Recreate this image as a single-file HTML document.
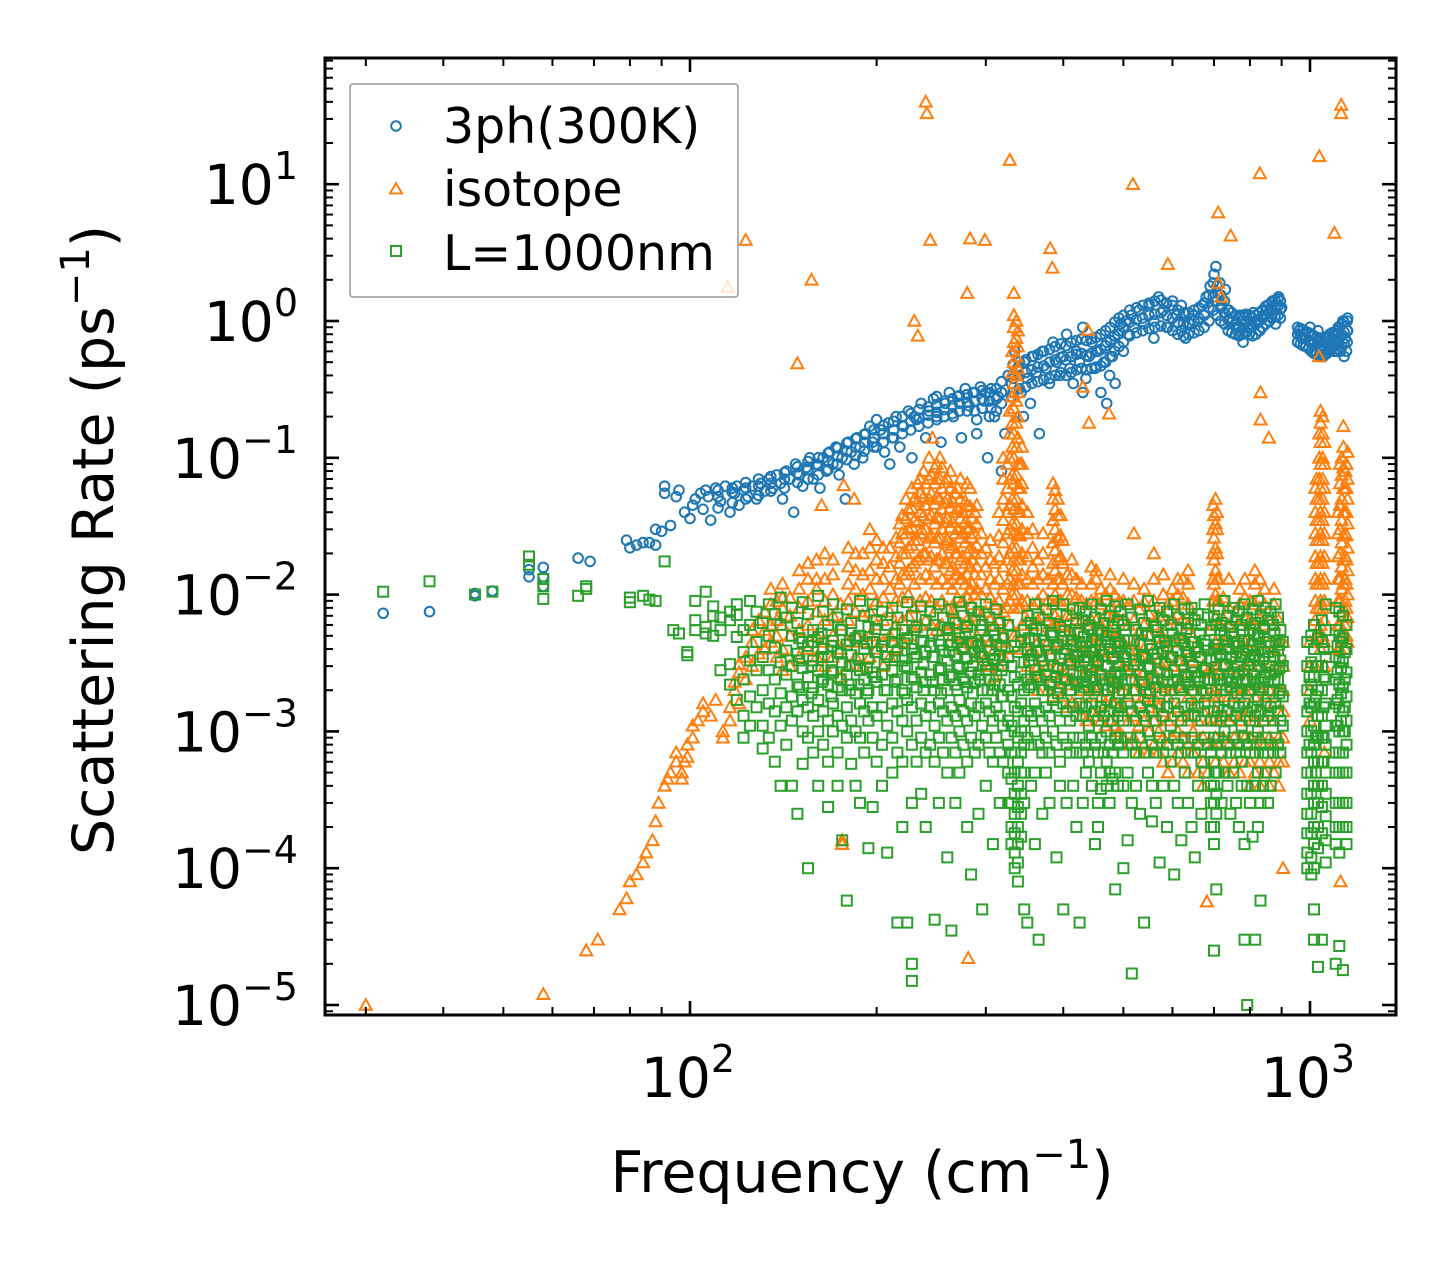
<!DOCTYPE html>
<html><head><meta charset="utf-8"><style>
html,body{margin:0;padding:0;background:#fff;}
svg{display:block;font-family:"DejaVu Sans","Liberation Sans",sans-serif;}
</style></head><body>
<svg id="chart" width="1455" height="1265" viewBox="0 0 1455 1265" xmlns="http://www.w3.org/2000/svg">
<rect x="0" y="0" width="1455" height="1265" fill="#fff"/>
<g id="marks"></g>
<g id="axes"></g>
<g id="legend">
  <rect x="350" y="84" width="388" height="213" rx="3" fill="#fff" fill-opacity="0.8" stroke="#999" stroke-width="1.5"/>
  <circle cx="396" cy="126" r="4.8" fill="none" stroke="#1f77b4" stroke-width="2"/>
  <text x="443" y="143" font-size="49">3ph(300K)</text>
  <path d="M396,183 L402,193.5 L390,193.5 Z" fill="none" stroke="#ff7f0e" stroke-width="2"/>
  <text x="443" y="206" font-size="49">isotope</text>
  <rect x="391" y="246" width="10" height="10" fill="none" stroke="#2ca02c" stroke-width="2"/>
  <text x="443" y="270" font-size="49">L=1000nm</text>
</g>
</svg>
<script>
// ---- data: [frequency (cm^-1), [scattering rates (ps^-1)]] ----
const threePhGroups = [
[32,[.0073]],[38,[.0075]],[45,[.0102,.0098]],[48,[.0106]],[55,[.0152,.0135]],[58,[.0158,.0135,.0115]],[66,[.0185]],[69,[.0175]],
[79,[.025]],[80,[.022]],[82,[.023]],[84,[.024]],[86,[.024]],[88,[.023,.03]],[90,[.029]],[91,[.055,.062]],[93,[.032]],[95,[.052]],[96,[.058]],
[98,[.04]],[100,[.036]],[101,[.045]],[102,[.05]],[104,[.055]],[105,[.042]],[106,[.058]],[107,[.052]],[108,[.035]],[110,[.06]],[112,[.048]],
[114,[.062]],[116,[.04]],[118,[.055]],[119,[.062]],[120,[.045]],[122,[.058]],[124,[.052]],[126,[.062]],[128,[.05]],[130,[.065]],[132,[.057]],
[134,[.07]],[136,[.06]],[138,[.075]],[140,[.065]],[141,[.05]],[143,[.08]],[145,[.07]],[147,[.04]],[148,[.09]],[150,[.075]],[152,[.062]],
[154,[.085]],[156,[.1]],[158,[.07]],[160,[.09]],[162,[.06]],[164,[.1]],[166,[.08]],[168,[.11]],[170,[.09]],[172,[.12]],[174,[.075]],
[176,[.1]],[178,[.05]],[180,[.13]],[182,[.11]],[184,[.09]],[186,[.14]],[188,[.12]],[190,[.1]],[192,[.15]],[195,[.17]],[197,[.13]],
[200,[.19,.12]],[203,[.16]],[206,[.11]],[209,[.18]],[210,[.09]],[212,[.14]],[215,[.2]],[218,[.12]],[221,[.17]],[225,[.22]],[228,[.1]],
[230,[.2]],[232,[.19]],[236,[.25]],[240,[.14]],[243,[.22]],[247,[.27]],[250,[.2,.28]],[254,[.13]],[258,[.25]],[262,[.3]],[266,[.2]],
[270,[.28]],[274,[.14]],[278,[.32]],[282,[.24]],[286,[.3]],[290,[.19,.15]],[294,[.33]],[298,[.26]],[300,[.3]],[302,[.1]],[306,[.32,.23]],
[310,[.2]],[314,[.28]],[318,[.08]],[322,[.15]],[326,[.4]],[330,[.35,.28]],[334,[.6]],[338,[.45]],[342,[.3]],[345,[.2]],[346,[.5]],
[350,[.38]],[354,[.25]],[358,[.55]],[362,[.42]],[366,[.15]],[370,[.6]],[375,[.45]],[380,[.35]],[385,[.7]],[390,[.5]],[395,[.4]],
[400,[.55]],[405,[.8]],[410,[.45]],[415,[.35]],[420,[.6]],[425,[.5]],[430,[.9,.3]],[435,[.38]],[440,[.55]],[445,[.7]],[450,[.45]],
[455,[.6]],[460,[.3]],[465,[.5]],[470,[.7,.25]],[475,[.4]],[480,[.55]],[485,[.35]],[490,[.8]],[495,[.95]],[500,[.6]],[505,[1.0]],
[510,[.8]],[515,[1.1]],[520,[.9]],[530,[1.2]],[540,[.95]],[550,[1.3]],[560,[1.0,.75]],[570,[1.5]],[580,[1.2]],[590,[.9]],[600,[1.4]],
[610,[1.1]],[620,[.85,1.3]],[630,[.75]],[640,[.95]],[650,[1.1]],[660,[1.0]],[670,[1.3]],[680,[1.5]],[690,[1.8]],[700,[2.2]],[705,[2.5]],
[710,[1.6]],[715,[1.9]],[720,[1.3]],[730,[1.7]],[740,[1.2]],[750,[1.0]],[760,[.9]],[770,[1.1,.8]],[780,[.7]],[790,[1.0]],[800,[.9]],
[810,[1.15]],[820,[1.0]],[830,[.85]],[840,[1.1]],[850,[1.2]],[860,[1.0]],[870,[1.4]],[880,[1.3,.95]],[890,[1.5]],[900,[1.25]],
[960,[.85]],[970,[.75]],[980,[.8]],[1000,[.9,.7]],[1010,[.7]],[1020,[.6]],[1030,[.85]],[1040,[.65]],[1050,[.55]],[1060,[.75]],
[1070,[.6]],[1080,[.7]],[1090,[.65]],[1100,[.8]],[1110,[.9]],[1120,[.6]],[1130,[1.0]],[1135,[.55]],[1140,[.75]],[1145,[.6]],[1150,[.85,1.05]]
];
const threePhExtra = [
[111,[.043,.052,.058]],[117,[.047,.056,.06]],[123,[.05,.06,.066]],[129,[.053,.062,.07]],[135,[.057,.065,.073]],[142,[.06,.07,.078]],
[149,[.066,.077,.086]],[155,[.07,.082,.094]],[161,[.075,.088,.1]],[167,[.082,.095,.108]],[173,[.09,.103,.118]],[179,[.097,.112,.128]],
[185,[.104,.12,.138]],[191,[.112,.13,.148]],[198,[.12,.14,.16]],[205,[.13,.15,.172]],[213,[.14,.16,.185]],[220,[.15,.172,.2]],
[227,[.16,.185,.21]],[234,[.17,.195,.225]],[242,[.18,.205,.235]],[250,[.19,.215,.245]],[257,[.2,.225,.26]],[265,[.21,.24,.27]],
[272,[.22,.25,.285]],[280,[.22,.255,.29]],[288,[.22,.26,.3]],[296,[.23,.27,.31]],[304,[.2,.26,.3]],[312,[.22,.27,.32]],[318,[.25,.3,.36]],
[332,[.3,.38,.48]],[340,[.32,.4,.5]],[348,[.33,.42,.52]],[356,[.35,.44,.55]],[364,[.36,.46,.57]],[372,[.37,.47,.6]],[380,[.38,.5,.62]],
[388,[.4,.52,.65]],[396,[.42,.54,.68]],[404,[.4,.52,.66]],[412,[.42,.55,.7]],[420,[.44,.57,.72]],[428,[.45,.58,.74]],[436,[.44,.56,.72]],
[444,[.45,.58,.74]],[452,[.46,.6,.76]],[460,[.47,.62,.8]],[468,[.5,.66,.85]],[476,[.55,.72,.9]],[484,[.6,.78,.98]],[492,[.65,.85,1.05]],
[500,[.7,.9,1.1]],[512,[.78,.98,1.2]],[525,[.82,1.02,1.25]],[537,[.85,1.05,1.3]],[550,[.88,1.1,1.35]],[562,[.9,1.12,1.4]],[575,[.92,1.15,1.42]],
[587,[.9,1.1,1.35]],[600,[.85,1.05,1.3]],[612,[.8,.98,1.2]],[625,[.78,.95,1.15]],[637,[.8,.97,1.15]],[650,[.82,1.0,1.2]],[662,[.85,1.05,1.25]],
[675,[.9,1.1,1.35]],[687,[1.0,1.25,1.55]],[698,[1.2,1.5,1.9]],[708,[1.1,1.4,1.8]],[718,[1.0,1.25,1.55]],[728,[.95,1.15,1.4]],[738,[.85,1.02,1.2]],
[748,[.82,.98,1.15]],[758,[.8,.95,1.1]],[768,[.78,.92,1.08]],[778,[.8,.95,1.1]],[788,[.82,.97,1.12]],[798,[.8,.95,1.1]],[808,[.78,.92,1.05]],
[818,[.8,.95,1.1]],[828,[.85,1.0,1.15]],[838,[.9,1.05,1.2]],[848,[.95,1.1,1.28]],[858,[1.0,1.15,1.32]],[868,[1.05,1.2,1.38]],[878,[1.08,1.25,1.42]],
[888,[1.1,1.28,1.45]],[896,[1.05,1.22,1.4]],[955,[.7,.8,.9]],[965,[.68,.78,.88]],[975,[.66,.76,.86]],[985,[.65,.74,.84]],[995,[.63,.72,.82]],
[1005,[.6,.7,.8]],[1015,[.58,.68,.78]],[1025,[.57,.66,.76]],[1035,[.56,.65,.75]],[1045,[.55,.64,.74]],[1055,[.56,.65,.75]],[1065,[.58,.67,.77]],
[1075,[.6,.7,.8]],[1085,[.62,.72,.82]],[1095,[.6,.7,.82]],[1105,[.6,.72,.85]],[1115,[.62,.75,.9]],[1125,[.65,.8,.95]],[1135,[.68,.83,.98]],[1148,[.7,.85,1.0]]
];
const isotopeGroups = [
[30,[.00001]],[58,[.000012]],[68,[.000025]],[71,[.00003]],[77,[.00005]],[79,[.00006]],[80,[.00008]],[82,[.00009]],[84,[.00011]],
[85,[.00013]],[87,[.00016]],[88,[.00022]],[89,[.0003]],[91,[.0004]],[92,[.00045]],[93,[.0005]],[95,[.0006,.0007]],[97,[.00045,.0005]],
[98,[.0006]],[99,[.0008,.00065]],[101,[.0009,.0011]],[103,[.0012]],[105,[.0014,.0016]],[108,[.0013]],[110,[.0017]],[113,[.0009,.001]],
[116,[.0012,.0015]],[118,[.002,.0023]],[120,[.0016,.0027,.0031]],[123,[.0024,.0035]],[126,[.003,.0045,.0055]],[129,[.0037,.0065]],
[132,[.004,.0055,.0075]],[135,[.0045,.006,.0085,.011]],[138,[.0035,.005,.0065,.009]],[141,[.0028,.004,.006,.008,.0095,.012]],
[145,[.003,.005,.007,.0095]],[150,[.0035,.0055,.008,.011,.015]],[155,[.004,.006,.009,.013,.017]],[160,[.0035,.005,.0075,.011]],
[165,[.003,.0045,.0065,.009,.013,.02]],[170,[.0035,.005,.007,.01,.014]],[175,[.0025,.004,.006,.0085]],[176,[.00015,.00016]],
[180,[.003,.0045,.0065,.009,.012,.016,.022]],[185,[.0035,.005,.0075,.011,.015]],[190,[.003,.0045,.007,.01,.014,.02]],
[195,[.0035,.005,.0075,.011,.015,.022,.03]],[200,[.004,.006,.009,.013,.018]],[205,[.003,.0045,.0065,.0095,.013,.017]],
[210,[.0035,.005,.0075,.011,.016,.022]],[215,[.004,.006,.009,.013,.019,.026]],[220,[.0045,.0065,.0095,.014,.02,.028,.038]],
[225,[.005,.007,.01,.015,.022,.03,.042]],[230,[.0055,.008,.012,.017,.025,.035,.05]],[235,[.006,.009,.013,.019,.028,.04,.055,.07]],
[240,[.0065,.0095,.014,.02,.03,.045,.065]],[245,[.006,.009,.013,.019,.027,.038,.055,.075]],[250,[.0055,.008,.012,.018,.026,.037,.052,.07,.09]],
[255,[.006,.009,.013,.02,.03,.042,.06,.085]],[260,[.0055,.008,.012,.017,.025,.036,.05,.07]],[265,[.005,.0075,.011,.016,.023,.034,.048]],
[270,[.0045,.0065,.0095,.014,.02,.03,.042,.06]],[275,[.004,.006,.009,.013,.019,.028,.04]],[280,[.0045,.0065,.0095,.014,.02,.03,.045,.065]],
[285,[.004,.006,.0085,.012,.018,.026,.036]],[290,[.0035,.005,.0075,.011,.016,.023,.033,.045]],[295,[.003,.0045,.007,.01,.014,.02,.028]],
[300,[.0035,.005,.0075,.011,.016,.022]],[305,[.003,.0045,.0065,.0095,.013,.018,.025]],[310,[.0025,.004,.006,.0085,.012,.017]],
[315,[.003,.0045,.0065,.009,.013,.019,.027,.04]],[320,[.0035,.005,.0075,.011,.016,.024,.035,.05,.07,.1]],
[328,[.004,.006,.009,.013,.02,.03,.045,.07,.1,.15,.22]],
[333,[.005,.008,.012,.018,.028,.042,.065,.1,.15,.23,.35,.5,.7,.9,1.1,1.6]],
[338,[.005,.008,.012,.018,.027,.04,.06,.09,.14,.2,.3,.45,.65,.85]],[343,[.004,.006,.009,.014,.02,.03,.045,.065,.09,.12]],
[350,[.003,.0045,.0065,.009,.013,.019,.028,.04]],[357,[.0025,.004,.006,.0085,.012,.016,.022,.03]],[364,[.002,.003,.0045,.0065,.009,.013,.018]],
[371,[.0025,.0035,.005,.007,.01,.014,.02,.028]],[378,[.002,.003,.0045,.0065,.009,.013]],[385,[.0018,.0026,.004,.006,.0085,.012,.017,.024,.035,.05,.065]],
[392,[.002,.003,.0045,.0065,.009,.013,.018,.026,.038,.05]],[399,[.0018,.0027,.004,.006,.0085,.012,.017,.025]],[406,[.0015,.0022,.0033,.005,.007,.01,.014]],
[413,[.0016,.0024,.0035,.005,.0072,.01,.014,.018]],[420,[.0015,.0022,.0032,.0046,.0066,.0095,.013]],[428,[.0013,.002,.003,.0044,.0064,.009,.012]],
[436,[.0012,.0018,.0027,.004,.006,.0085]],[444,[.0014,.0021,.0031,.0045,.0065,.009,.012,.016]],[452,[.0013,.002,.003,.0045,.0065,.009,.013,.015]],
[460,[.0012,.0018,.0027,.004,.006,.0085,.011]],[468,[.0011,.0016,.0024,.0035,.005,.0072,.01]],[476,[.0012,.0018,.0026,.0038,.0055,.008,.011,.014]],
[484,[.0011,.0016,.0024,.0035,.005,.0072,.01]],[492,[.001,.0015,.0022,.0032,.0046,.0065,.009]],[500,[.0009,.0014,.002,.003,.0045,.0065,.009,.013]],
[510,[.0008,.0012,.0018,.0027,.004,.006,.0085]],[520,[.0009,.0013,.002,.003,.0044,.0065,.009,.012,.028]],[530,[.0007,.0011,.0016,.0024,.0036,.0053,.0078]],
[540,[.0008,.0012,.0018,.0027,.004,.006,.0088,.011]],[550,[.0007,.001,.0015,.0023,.0034,.005,.0072]],[560,[.0008,.0012,.0018,.0027,.004,.006,.009,.013,.02]],
[570,[.0007,.001,.0015,.0022,.0033,.0049,.007]],[580,[.0006,.0009,.0014,.0021,.0032,.0048,.007,.01,.014]],[590,[.0005,.0008,.0012,.0018,.0027,.004,.006,.0085]],
[600,[.0006,.0009,.0013,.002,.003,.0045,.0066,.009,.011]],[612,[.0007,.001,.0015,.0022,.0033,.005,.0072,.01,.013]],
[624,[.0006,.0009,.0013,.002,.003,.0045,.0066,.0095,.013]],[636,[.0005,.0008,.0012,.0018,.0027,.004,.006,.0085,.012,.015]],
[648,[.0007,.001,.0015,.0022,.0033,.0049,.007]],[660,[.0005,.0008,.0012,.0018,.0027,.004]],[672,[.0004,.0006,.0009,.0014,.002,.003]],
[684,[.0005,.0008,.0012,.0018,.0027]],[698,[.0008,.0012,.0018,.0027,.004,.006,.009,.013,.02,.03,.045]],
[704,[.0006,.0009,.0014,.002,.003,.0045,.0068,.01,.015,.022,.033,.05]],[712,[.0008,.0012,.0018,.0027,.004,.006,.009,.013]],
[725,[.0006,.0009,.0013,.002,.003,.0045,.0066,.0095]],[740,[.0005,.0008,.0012,.0018,.0027,.004,.006,.008,.013]],
[755,[.0006,.0009,.0013,.002,.003,.0045,.0066]],[770,[.0005,.0008,.0012,.0018,.0027,.004,.006,.0085,.011]],
[785,[.0006,.0009,.0013,.002,.003,.0045,.0066,.0095,.013]],[800,[.0004,.0006,.0009,.0014,.002,.003,.0045,.0065,.009]],
[815,[.0005,.0008,.0012,.0018,.0027,.004,.006,.0085,.012,.015]],[830,[.0004,.0006,.0009,.0014,.002,.003,.0045,.0066,.0095,.013]],
[845,[.0005,.0008,.0012,.0018,.0027,.004,.006,.0085,.011]],[860,[.0004,.0006,.0009,.0014,.002,.003,.0045,.0065]],
[875,[.0005,.0008,.0012,.0018,.0027,.004,.006,.0085,.011]],[890,[.0004,.0006,.0009,.0014,.002,.003,.0045,.0065]],[905,[.0006,.0009,.0014,.002,.003,.0045,.0001]],
[1000,[.002,.003,.0045,.0012]],[1020,[.003,.0045,.0065,.009,.013,.019,.028,.04,.06]],
[1040,[.004,.006,.009,.013,.019,.028,.04,.06,.09,.13,.18,.22]],[1055,[.003,.0045,.0065,.009,.013,.019,.028,.04,.06,.09,.13,.0007]],
[1110,[.004,.006,.009,.013,.019,.028,.04]],[1125,[.005,.0075,.011,.016,.024,.035,.05,.075,.1]],[1140,[.004,.006,.009,.013,.019,.028,.04,.06,.08]],
[1150,[.0045,.0068,.01,.015,.022,.033,.05,.07,.11]]
];
const isotopeExtra = [
[218,[.012,.017,.024,.033]],[223,[.014,.02,.028,.036,.05]],[228,[.016,.023,.031,.043,.06]],[233,[.018,.025,.034,.048,.065]],
[238,[.02,.028,.038,.052,.08]],[243,[.018,.026,.036,.05,.07,.1]],[248,[.016,.024,.033,.046,.065,.085]],[253,[.018,.026,.036,.05,.07,.1]],
[258,[.017,.024,.034,.047,.066]],[263,[.015,.022,.031,.043,.06,.08]],[268,[.014,.02,.028,.04,.055]],[273,[.013,.018,.026,.036,.05,.07]],
[278,[.012,.017,.024,.034,.048]],[283,[.011,.016,.022,.031,.044,.06]],[288,[.01,.014,.02,.028,.04]],[325,[.008,.012,.018,.028,.04,.06,.09]],
[331,[.01,.015,.022,.033,.05,.075,.12,.18,.28,.42,.6]],[336,[.01,.015,.022,.033,.05,.075,.12,.18,.26,.4,.55,.75,1.0]],
[341,[.008,.012,.018,.027,.04,.06,.09]],[388,[.007,.01,.015,.021,.03,.042,.058]],[396,[.006,.009,.013,.019,.027,.038]],
[1025,[.005,.008,.012,.017,.025,.035,.05,.07]],[1035,[.005,.008,.012,.017,.025,.035,.05,.07,.1,.15]],[1048,[.005,.008,.012,.017,.025,.035,.05,.07,.1,.15,.2]],
[1118,[.004,.006,.009,.013,.02,.03,.045,.065,.09]],[1132,[.005,.008,.012,.018,.027,.04,.06,.085,.12,.17]],[1145,[.005,.008,.012,.018,.027,.04,.06,.09]],
[700,[.012,.018,.026,.038]],[708,[.009,.013,.02,.03,.04]],[160,[.013,.018]],[170,[.018]],[185,[.02]],[200,[.025]],[205,[.022]]
];
const isotopeOutliers = [
[123,3.9],[115,1.77],[157,2.0],[149,.49],[230,1.0],[233,.78],[244,3.9],[240,40],[241,33],[280,1.6],[283,4.0],[299,3.9],[328,15],
[381,3.4],[384,2.45],[438,.86],[518,10],[590,2.6],[711,6.2],[745,4.2],[711,1.9],[720,1.5],[830,12],[1035,16],[1095,4.4],[1123,38],[1123,33],
[832,.3],[1034,.55],[430,.33],[474,.21],[440,.18],[858,.14],[832,.19],[177,.063],[163,.045],[184,.05],[246,.14],
[176,.00015],[281,.000022],[682,.000057],[1120,.00008]
];
const boundaryGroups = [
[32,[.0105]],[38,[.0125]],[45,[.01]],[48,[.0105]],[55,[.019,.0165]],[58,[.0115,.0093,.013]],[66,[.0098]],[68,[.011,.0115]],[80,[.0095,.0088]],
[84,[.0098]],[86,[.0092]],[88,[.009]],[91,[.0175]],[94,[.0055]],[96,[.0052]],[99,[.0036,.0038]],[102,[.009,.0065,.0055]],[106,[.0058,.0105,.0052]],
[109,[.007,.0082,.005]],[112,[.0068,.0055,.0028]],[116,[.0075,.0065,.0031,.0022]],[119,[.0049,.0071,.0085,.0017]],[122,[.0055,.0038,.0024,.0013,.0009]],
[125,[.009,.006,.0033,.0018,.0011]],[128,[.0075,.0045,.0028,.0015]],[131,[.0062,.0035,.002,.0011,.00075]],[134,[.0085,.005,.0028,.0016,.0009]],
[137,[.0072,.0041,.0024,.0014,.0006]],[140,[.0095,.006,.0032,.0019,.0011,.0004]],[143,[.0068,.0039,.0026,.0015,.0008]],
[146,[.008,.005,.003,.0018,.0012,.0004]],[149,[.0062,.0037,.0022,.0014,.00025]],[152,[.0088,.0045,.0029,.0017,.001,.00058]],
[155,[.0072,.0042,.0025,.0015,.0009,.0001]],[158,[.0055,.0033,.0021,.0013,.0007]],[161,[.0098,.0049,.0028,.0017,.001,.0004]],
[164,[.0075,.004,.0024,.0014,.0008]],[167,[.006,.0035,.0022,.0012,.0006,.00028]],[170,[.0085,.0046,.0027,.0016,.001]],
[173,[.0068,.0038,.0021,.0013,.0007,.0004]],[176,[.0055,.0032,.002,.0011,.00016]],[179,[.0078,.0043,.0026,.0015,.0009,.000058]],
[182,[.0062,.0036,.0022,.0012,.00058]],[185,[.0048,.003,.0019,.001,.0004]],[188,[.009,.005,.0028,.0016,.0009,.0003]],
[191,[.007,.004,.0024,.0014,.0007]],[194,[.0058,.0034,.002,.0012,.00014]],[197,[.0085,.0045,.0027,.0015,.0009,.00028]],
[200,[.0065,.0038,.0023,.0013,.0006]],[204,[.0075,.0042,.0026,.0015,.0008,.0004]],[208,[.006,.0035,.002,.0011,.00013]],
[212,[.008,.0045,.0028,.0016,.0009,.0005]],[216,[.0068,.0039,.0024,.0014,.0007,.00004]],[220,[.0055,.0033,.002,.0012,.0006,.0002]],
[224,[.0088,.0048,.0029,.0017,.001,.00004]],[228,[.007,.004,.0025,.0015,.0008,.0003,.000015,.00002]],[232,[.0058,.0035,.0021,.0012,.0006]],
[236,[.0082,.0045,.0027,.0016,.0009,.00035]],[240,[.0065,.0038,.0023,.0013,.0007,.0002]],[244,[.0075,.0042,.0026,.0015,.0008]],
[248,[.006,.0035,.002,.0011,.0006,.000042]],[252,[.0085,.0046,.0028,.0016,.0009,.0003]],[256,[.0068,.0039,.0024,.0014,.0007]],
[260,[.0055,.0033,.002,.0012,.0005,.00012]],[264,[.0078,.0043,.0026,.0015,.0009,.000035]],[268,[.0062,.0036,.0022,.0013,.0007,.0003]],
[272,[.0088,.0048,.0029,.0017,.001,.0005]],[276,[.007,.004,.0024,.0014,.0008]],[280,[.0058,.0034,.0021,.0012,.0006,.0002]],
[284,[.008,.0045,.0027,.0016,.0009,.00009]],[288,[.0065,.0038,.0023,.0013,.0007]],[292,[.0075,.0042,.0026,.0015,.0008,.00025]],
[296,[.006,.0035,.002,.0011,.00005]],[300,[.0085,.0046,.0028,.0016,.0009,.0004]],[304,[.0068,.0039,.0024,.0014,.0007]],
[308,[.0055,.0033,.002,.0012,.0006,.00015]],[312,[.0078,.0043,.0026,.0015,.0009]],[316,[.0062,.0036,.0022,.0013,.0007,.0003]],
[320,[.0048,.003,.0018,.0011,.0006]],[326,[.006,.0035,.002,.0012,.0008,.0005,.0003]],
[330,[.005,.003,.0018,.0011,.0007,.00045,.0003,.0002,.00015]],[334,[.0042,.0025,.0015,.001,.0007,.0005,.00035,.00025,.00018,.00013,.0001]],
[338,[.0038,.0022,.0014,.0009,.0006,.0004,.00028,.0002,.00015,.00011,.00008]],[342,[.0045,.0027,.0016,.001,.0007,.0005,.00035,.00025,.00017]],
[346,[.0055,.0032,.002,.0012,.0008,.0005,.0003,.00005]],[350,[.007,.004,.0024,.0014,.0009,.00004]],[355,[.0062,.0036,.0022,.0013,.0008,.0004]],
[360,[.0085,.0046,.0028,.0016,.001,.0005,.00015]],[365,[.0068,.0039,.0024,.0014,.0008,.00003]],[370,[.0055,.0033,.002,.0012,.0007,.00025]],
[375,[.0078,.0043,.0026,.0015,.0009,.0005]],[380,[.0062,.0036,.0022,.0013,.0007,.0003]],[385,[.009,.005,.003,.0017,.001]],
[390,[.0072,.0041,.0025,.0015,.0008,.00012]],[395,[.0058,.0034,.0021,.0012,.0006,.0004]],[400,[.0085,.0046,.0028,.0016,.0009,.00005]],
[405,[.007,.004,.0024,.0014,.0008,.0003]],[410,[.0055,.0033,.002,.0012,.0007]],[415,[.0078,.0043,.0026,.0015,.0009,.0004]],
[420,[.0062,.0036,.0022,.0013,.0007,.0002]],[425,[.008,.0045,.0027,.0016,.0009,.00004]],[430,[.0065,.0038,.0023,.0013,.0007,.0003]],
[435,[.0075,.0042,.0026,.0015,.0008,.0005]],[440,[.006,.0035,.002,.0011,.0006]],[445,[.0085,.0046,.0028,.0016,.0009,.0004]],
[450,[.0068,.0039,.0024,.0014,.0008,.00015]],[455,[.0055,.0033,.002,.0012,.0007,.0003,.0002]],[460,[.0078,.0043,.0026,.0015,.0009,.0005,.00038]],
[465,[.0062,.0036,.0022,.0013,.0007]],[470,[.009,.005,.003,.0017,.001,.0006,.0004]],[475,[.007,.004,.0024,.0014,.0008,.0005,.0003]],
[480,[.0058,.0034,.0021,.0012,.0007,.00045]],[485,[.0082,.0045,.0027,.0016,.0009,.0005,.00007]],[490,[.0065,.0038,.0023,.0013,.0008,.0004]],
[495,[.0075,.0042,.0026,.0015,.0009]],[500,[.006,.0035,.002,.0012,.0007,.0004,.0001]],[508,[.0085,.0046,.0028,.0016,.0009,.0005,.00016]],
[516,[.0068,.0039,.0024,.0014,.0008,.0003,.000017]],[524,[.0055,.0033,.002,.0012,.0007,.0004]],[532,[.0078,.0043,.0026,.0015,.0009,.00025]],
[540,[.0062,.0036,.0022,.0013,.0007,.00004]],[548,[.009,.005,.003,.0017,.001,.0005]],[556,[.007,.004,.0024,.0014,.0008,.0004,.00022]],
[564,[.0058,.0034,.0021,.0012,.0007,.0003]],[572,[.008,.0045,.0027,.0016,.0009,.00011]],[580,[.0065,.0038,.0023,.0013,.0007,.0004]],
[588,[.0075,.0042,.0026,.0015,.0008,.0002]],[596,[.006,.0035,.002,.0011,.0006]],[604,[.0085,.0046,.0028,.0016,.0009,.0004,.00009]],
[612,[.0068,.0039,.0024,.0014,.0008,.0003]],[620,[.0055,.0033,.002,.0012,.0007,.00016]],[628,[.0078,.0043,.0026,.0015,.0009,.0005]],
[636,[.0062,.0036,.0022,.0013,.0007,.0003]],[644,[.008,.0045,.0027,.0016,.0009,.0002]],[652,[.0065,.0038,.0023,.0013,.0007,.00012]],
[660,[.0072,.0041,.0025,.0015,.0008,.0004]],[668,[.006,.0035,.002,.0012,.0006,.00025]],[676,[.0085,.0046,.0028,.0016,.0009,.0005]],
[684,[.0068,.0039,.0024,.0014,.0008]],[692,[.0055,.0033,.002,.0012,.0007,.0004,.0003,.0002]],
[700,[.007,.004,.0024,.0014,.0009,.0006,.0004,.0003,.0002,.00015,.000025]],[706,[.006,.0035,.002,.0012,.0008,.0005,.00035,.00025,.00007]],
[712,[.0078,.0043,.0026,.0015,.0009,.0005]],[720,[.0062,.0036,.0022,.0013,.0007,.0003]],[728,[.009,.005,.003,.0017,.001,.0005]],
[736,[.007,.004,.0024,.0014,.0008,.0004]],[744,[.0058,.0034,.0021,.0012,.0007,.00025]],[752,[.008,.0045,.0027,.0016,.0009,.0005]],
[760,[.0065,.0038,.0023,.0013,.0007,.0003]],[768,[.0075,.0042,.0026,.0015,.0008,.0002]],[776,[.006,.0035,.002,.0011,.0006,.0004]],
[784,[.0085,.0046,.0028,.0016,.0009,.00015,.00003]],[792,[.0068,.0039,.0024,.0014,.0008,.0004,.00001]],[800,[.0055,.0033,.002,.0012,.0007,.0003]],
[808,[.0078,.0043,.0026,.0015,.0009,.00017]],[816,[.0062,.0036,.0022,.0013,.0007,.0004,.00003]],[824,[.009,.005,.003,.0017,.001,.0005,.0002]],
[832,[.007,.004,.0024,.0014,.0008,.0003,.000058]],[840,[.0058,.0034,.0021,.0012,.0007,.0004]],[848,[.008,.0045,.0027,.0016,.0009,.0005]],
[856,[.0065,.0038,.0023,.0013,.0007,.0003]],[864,[.0075,.0042,.0026,.0015,.0008,.0004]],[872,[.006,.0035,.002,.0012,.0007]],
[880,[.0085,.0046,.0028,.0016,.0009,.0005]],[888,[.0068,.0039,.0024,.0014,.0008]],[896,[.0055,.0033,.002,.0012,.0007]],[904,[.0045,.003,.0018,.0011]],
[990,[.0045,.003,.002,.0014,.001,.0007,.0005,.00035,.00025,.00018,.00013,.0001]],
[1005,[.005,.0032,.0022,.0015,.001,.0007,.0005,.00035,.00025,.00018,.00012,.00009]],
[1015,[.006,.004,.0025,.0016,.0011,.0008,.0006,.0004,.0003,.0002,.00015,.0001,.00005,.00003]],
[1030,[.0048,.003,.002,.0013,.0009,.0006,.0004,.0003,.0002,.00014,.000019]],
[1045,[.0065,.0045,.003,.002,.0013,.0009,.0006,.0004,.00028,.00018,.00003]],
[1060,[.0085,.0055,.0035,.0024,.0016,.0011,.0008,.0005,.00035,.00024,.00016,.00011]],
[1100,[.008,.0055,.0035,.0024,.0016,.0011,.0007,.0005,.0003,.0002,.00015,.00002]],
[1115,[.0075,.005,.0033,.0022,.0015,.001,.0007,.0005,.0003,.0002,.00013,.000027]],
[1130,[.007,.0048,.0032,.0021,.0014,.001,.0007,.0005,.0003,.0002,.000018]],
[1145,[.006,.004,.0027,.0018,.0012,.0008,.0005,.0003,.0002,.00015]]
];
const boundaryExtra = [
[150,[.0021,.0033,.0048]],[157,[.0019,.003,.0045]],[163,[.0023,.0035,.0052]],[169,[.0018,.0028,.0042]],[175,[.0024,.0037,.0055]],
[181,[.002,.003,.0046]],[187,[.0022,.0034,.005]],[193,[.0019,.0029,.0044]],[199,[.0025,.0038,.0056]],[206,[.002,.0031,.0047]],
[214,[.0023,.0035,.0052]],[222,[.0019,.003,.0044]],[230,[.0024,.0037,.0055]],[238,[.002,.0031,.0046]],[246,[.0023,.0035,.0052]],
[254,[.0019,.0029,.0043]],[262,[.0025,.0038,.0057]],[270,[.002,.003,.0045]],[278,[.0023,.0035,.0052]],[286,[.0019,.003,.0044]],
[294,[.0024,.0037,.0055]],[302,[.002,.0031,.0046]],[310,[.0022,.0034,.005]],[318,[.0018,.0028,.0042]],[352,[.0021,.0033,.0048]],
[362,[.0025,.0038,.0056]],[372,[.002,.003,.0046]],[382,[.0023,.0036,.0053]],[392,[.0019,.0029,.0043]],[402,[.0024,.0037,.0054]],
[412,[.002,.0031,.0046]],[422,[.0023,.0035,.0052]],[432,[.0021,.0033,.0049]],[442,[.0025,.0038,.0056]],[452,[.0021,.0032,.0047]],
[462,[.0024,.0036,.0053]],[472,[.002,.003,.0045]],[482,[.0023,.0035,.0052]],[492,[.0019,.003,.0044]],[504,[.0024,.0037,.0055]],
[520,[.002,.0031,.0046]],[536,[.0023,.0035,.0052]],[552,[.0019,.0029,.0043]],[568,[.0024,.0037,.0055]],[584,[.002,.0031,.0046]],
[600,[.0023,.0035,.0052]],[616,[.0021,.0033,.0048]],[632,[.0025,.0038,.0056]],[648,[.002,.003,.0045]],[664,[.0023,.0035,.0052]],
[680,[.0019,.0029,.0043]],[716,[.0024,.0037,.0055]],[732,[.002,.0031,.0046]],[748,[.0023,.0035,.0052]],[764,[.0019,.003,.0044]],
[780,[.0024,.0037,.0055]],[796,[.002,.0031,.0046]],[812,[.0023,.0035,.0052]],[828,[.0021,.0033,.0048]],[844,[.0025,.0038,.0056]],
[860,[.002,.003,.0045]],[876,[.0023,.0035,.0052]],[892,[.0019,.0029,.0043]],[998,[.0025,.0016,.0008]],[1022,[.003,.0018,.0009,.0005]],
[1052,[.004,.0025,.0015,.0009,.0006]],[1108,[.0042,.0027,.0017,.0011]],[1122,[.0045,.0029,.0019,.0012]],[1138,[.0038,.0024,.0015,.001]]
];
const xMajorTicks = [100, 1000];
const xTickLabels = [["10","2"],["10","3"]];
const yMajorTicks = [1e-5,1e-4,1e-3,1e-2,1e-1,1,10];
const yTickLabels = [["10","−5"],["10","−4"],["10","−3"],["10","−2"],["10","−1"],["10","0"],["10","1"]];

// ---- axes geometry ----
const L=325, R=1396, T=58, B=1015;
const X = f => 690 + 620*(Math.log10(f)-2);
const Y = v => 321 - 136.8*Math.log10(v);
const NS="http://www.w3.org/2000/svg";
const marks=document.getElementById('marks');
const axes=document.getElementById('axes');
function mk(tag, attrs, parent){const e=document.createElementNS(NS,tag);for(const k in attrs)e.setAttribute(k,attrs[k]);parent.appendChild(e);return e;}

const clip=mk('clipPath',{id:'clip'},marks);
mk('rect',{x:L,y:T,width:R-L,height:B-T},clip);
const gBlue=mk('g',{'clip-path':'url(#clip)',fill:'none',stroke:'#1f77b4','stroke-width':2},marks);


const gOrange=mk('g',{'clip-path':'url(#clip)',fill:'none',stroke:'#ff7f0e','stroke-width':2},marks);


const gGreen=mk('g',{'clip-path':'url(#clip)',fill:'none',stroke:'#2ca02c','stroke-width':2},marks);



function circ(f,v){
  const c=mk('circle',{cx:X(f).toFixed(1),cy:Y(v).toFixed(1),r:4.8},gBlue);
  
  
}
threePhGroups.forEach(([f,vs])=>vs.forEach(v=>circ(f,v)));
threePhExtra.forEach(([f,vs])=>vs.forEach(v=>circ(f,v)));
function tri(f,v){
  const x=X(f),y=Y(v);
  const p=mk('path',{d:`M${x.toFixed(1)},${(y-6).toFixed(1)} L${(x+6).toFixed(1)},${(y+4.8).toFixed(1)} L${(x-6).toFixed(1)},${(y+4.8).toFixed(1)} Z`},gOrange);
  
  
}
isotopeGroups.forEach(([f,vs])=>vs.forEach(v=>tri(f,v)));
isotopeExtra.forEach(([f,vs])=>vs.forEach(v=>tri(f,v)));
isotopeOutliers.forEach(([f,v])=>tri(f,v));
function sq(f,v){
  const s=mk('rect',{x:(X(f)-5).toFixed(1),y:(Y(v)-5).toFixed(1),width:10,height:10},gGreen);
  
  
}
boundaryGroups.forEach(([f,vs])=>vs.forEach(v=>sq(f,v)));
boundaryExtra.forEach(([f,vs])=>vs.forEach(v=>sq(f,v)));

// ---- ticks ----
function line(x1,y1,x2,y2,w,name){
  const l=mk('line',{x1,y1,x2,y2,stroke:'#000','stroke-width':w},axes);
  
  
}
for(let d=1; d<=3; d++){
  for(let m=1;m<=9;m++){
    const f=m*Math.pow(10,d); const x=X(f);
    if(x<L||x>R) continue;
    const major=(m===1); const len=major?14:8; const w=major?2.6:2;
    line(x,B,x,B-len,w,major?'x-major-tick':'x-minor-tick');
    line(x,T,x,T+len,w,major?'x-major-tick':'x-minor-tick');
  }
}
for(let d=-6; d<=1; d++){
  for(let m=1;m<=9;m++){
    const v=m*Math.pow(10,d); const y=Y(v);
    if(y<T||y>B) continue;
    const major=(m===1); const len=major?14:8; const w=major?2.6:2;
    line(L,y,L+len,y,w,major?'y-major-tick':'y-minor-tick');
    line(R,y,R-len,y,w,major?'y-major-tick':'y-minor-tick');
  }
}
const frame=mk('rect',{x:L,y:T,width:R-L,height:B-T,fill:'none',stroke:'#000','stroke-width':3},axes);



xMajorTicks.forEach((f,i)=>{
  const t=mk('text',{x:X(f)-2,y:1097,'font-size':55,'text-anchor':'middle'},axes);
  
  
  t.innerHTML=`${xTickLabels[i][0]}<tspan font-size="38" dy="-25">${xTickLabels[i][1]}</tspan>`;
});
yMajorTicks.forEach((v,i)=>{
  const t=mk('text',{x:298,y:Y(v)+20,'font-size':55,'text-anchor':'end'},axes);
  
  
  t.innerHTML=`${yTickLabels[i][0]}<tspan font-size="38" dy="-25">${yTickLabels[i][1]}</tspan>`;
});
const xt=mk('text',{x:862,y:1192,'font-size':57,'text-anchor':'middle'},axes);


xt.innerHTML='Frequency (cm<tspan font-size="40" dy="-24">−1</tspan><tspan dy="24">)</tspan>';
const yt=mk('text',{x:0,y:0,'font-size':57,'text-anchor':'middle',transform:'translate(113,540) rotate(-90)'},axes);


yt.innerHTML='Scattering Rate (ps<tspan font-size="40" dy="-24">−1</tspan><tspan dy="24">)</tspan>';
</script>
</body></html>
